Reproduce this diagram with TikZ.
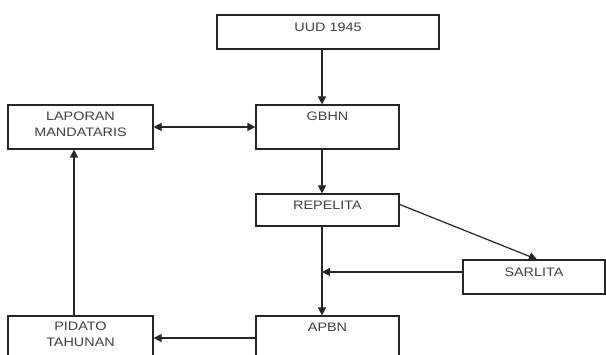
\documentclass[tikz,border=0pt]{standalone}
\usepackage{fontspec}
\setmainfont[FakeStretch=1.17]{Liberation Sans}
\usetikzlibrary{arrows.meta,calc}
\tikzset{
  box/.style={draw=black!85, line width=1.2pt, rectangle, inner sep=0pt},
  lbl/.style={anchor=base, align=center, inner sep=0pt, font=\fontsize{12.3}{16}\selectfont, text=black!75},
  conn/.style={draw=black!85, line width=1.2pt},
  arr/.style={conn, -{Triangle[length=8pt,width=8pt]}},
  darr/.style={conn, {Triangle[length=8pt,width=8pt]}-{Triangle[length=8pt,width=8pt]}}
}
\begin{document}
\begin{tikzpicture}[x=1pt,y=-1pt]
\useasboundingbox (0,0) rectangle (606,355);
\clip (0,0) rectangle (606,355);
\fill[white] (0,0) rectangle (606,355);
% boxes
\node[box, minimum width=222pt, minimum height=34pt] (uud) at (328,32) {};
\node[box, minimum width=143pt, minimum height=44pt] (gbhn) at (327.5,127) {};
\node[box, minimum width=145pt, minimum height=44pt] (lap) at (80.5,127) {};
\node[box, minimum width=143pt, minimum height=32pt] (rep) at (327.5,210) {};
\node[box, minimum width=142pt, minimum height=34pt] (sar) at (534,277) {};
\node[box, minimum width=143pt, minimum height=44pt] (apbn) at (327.5,338) {};
\node[box, minimum width=145pt, minimum height=44pt] (pid) at (80.5,338) {};
% texts
\node[lbl] (uudt) at ($(uud.north)+(0,17.5)$) {UUD 1945};
\node[lbl] (gbhnt) at ($(gbhn.north)+(0,16.5)$) {GBHN};
\node[lbl] (lapt) at ($(lap.north)+(0,32.5)$) {LAPORAN\\MANDATARIS};
\node[lbl] (rept) at ($(rep.north)+(0,16.5)$) {REPELITA};
\node[lbl] (sart) at ($(sar.north)+(0,17.5)$) {SARLITA};
\node[lbl] (apbnt) at ($(apbn.north)+(0,16.5)$) {APBN};
\node[lbl] (pidt) at ($(pid.north)+(0,31.5)$) {PIDATO\\TAHUNAN};
% helper coordinates
\coordinate (spine) at (322,0);
\coordinate (lx) at (74,0);
\coordinate (sarin) at ($(sar.west)+(0,-5)$);
\coordinate (sarend) at (spine |- sarin);
% connectors
\draw[arr] (uud.south -| spine) -- (gbhn.north -| spine);
\draw[darr] (lap.east) -- (gbhn.west);
\draw[arr] (gbhn.south -| spine) -- (rep.north -| spine);
\draw[arr] ($(rep.north east)+(0,11)$) -- ($(sar.north)+(3,0)$);
\draw[arr] (sarin) -- (sarend);
\draw[arr] (rep.south -| spine) -- (apbn.north -| spine);
\draw[arr] (apbn.west) -- (pid.east);
\draw[arr] (pid.north -| lx) -- (lap.south -| lx);
\end{tikzpicture}
\end{document}
